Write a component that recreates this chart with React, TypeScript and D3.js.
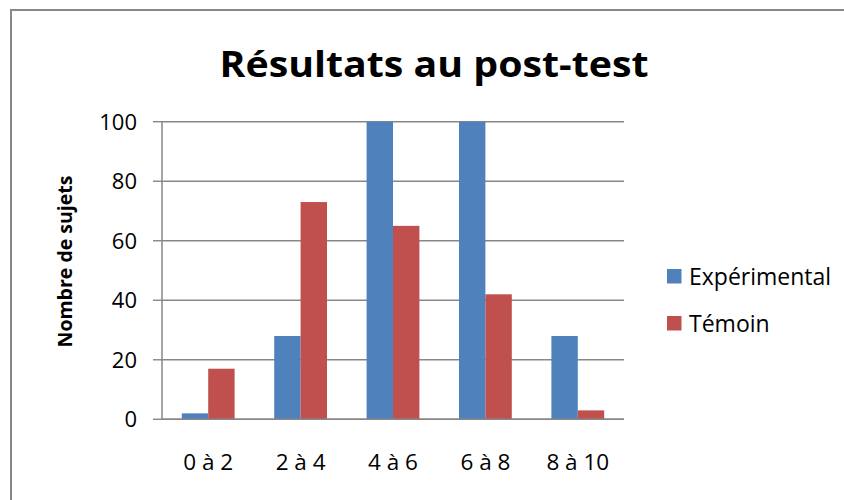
import React from "react";
import * as d3 from "d3";

const categories = ["0 à 2", "2 à 4", "4 à 6", "6 à 8", "8 à 10"];
const seriesNames = ["Expérimental", "Témoin"];
const experimental = [2, 28, 100, 100, 28];
const temoin = [17, 73, 65, 42, 3];
const yTicks = [0, 20, 40, 60, 80, 100];
const colors = ["#4F81BD", "#C0504D"];
const title = "Résultats au post-test";
const yTitle = "Nombre de sujets";

const W = 844;
const H = 500;
const FONT = "'Open Sans', Lato, sans-serif";

export default function App() {
  const plot = { left: 162, right: 624, top: 121.7, bottom: 419.3 };
  const x = d3.scaleBand<string>().domain(categories).range([plot.left, plot.right]).paddingInner(0).paddingOuter(0);
  const bw = x.bandwidth();
  const barW = bw / 3.5;
  const x1 = d3.scaleBand<string>().domain(seriesNames).range([0, barW * 2]);
  const y = d3.scaleLinear().domain([0, 100]).range([plot.bottom, plot.top]);
  const series = [experimental, temoin];

  return (
    <svg width={W} height={H} style={{ position: "absolute", left: 0, top: 0, background: "#fff" }}>
      <rect x={11} y={10} width={W} height={H} fill="#fff" stroke="#888" strokeWidth={2} />
      <text x={434} y={77} textAnchor="middle" fontFamily={FONT} fontWeight="bold" fontSize={35} fill="#000"
        textLength={429} lengthAdjust="spacingAndGlyphs">
        {title}
      </text>
      {yTicks.map((t) => (
        <g key={t}>
          <line x1={plot.left} x2={plot.right} y1={y(t)} y2={y(t)} stroke="#878787" strokeWidth={1.4} />
          <line x1={153} x2={plot.left} y1={y(t)} y2={y(t)} stroke="#878787" strokeWidth={1.4} />
          <text x={137} y={y(t)} dy="0.36em" textAnchor="end" fontFamily={FONT} fontSize={22} fill="#000">
            {t}
          </text>
        </g>
      ))}
      {categories.map((c, i) => (
        <g key={c}>
          {series.map((s, j) => (
            <rect
              key={j}
              x={(x(c) as number) + bw / 2 - barW + (x1(seriesNames[j]) as number)}
              y={y(s[i])}
              width={barW}
              height={plot.bottom - y(s[i])}
              fill={colors[j]}
            />
          ))}
          <text x={(x(c) as number) + bw / 2} y={470} textAnchor="middle" fontFamily={FONT} fontSize={22.5} fill="#000">
            {c}
          </text>
        </g>
      ))}
      <line x1={plot.left} x2={plot.left} y1={plot.top} y2={plot.bottom} stroke="#878787" strokeWidth={1.5} />
      <line x1={plot.left} x2={plot.right} y1={plot.bottom} y2={plot.bottom} stroke="#878787" strokeWidth={1.5} />
      <text
        transform={`translate(72,261.5) rotate(-90)`}
        textAnchor="middle"
        fontFamily={FONT}
        fontWeight="bold"
        fontSize={19.5}
        fill="#000"
      >
        {yTitle}
      </text>
      {seriesNames.map((n, j) => (
        <g key={n} transform={`translate(667,${269 + j * 47})`}>
          <rect x={0} y={0} width={14.5} height={14.5} fill={colors[j]} />
          <text x={22} y={7.5} dy="0.36em" fontFamily={FONT} fontSize={23} fill="#000">
            {n}
          </text>
        </g>
      ))}
    </svg>
  );
}
